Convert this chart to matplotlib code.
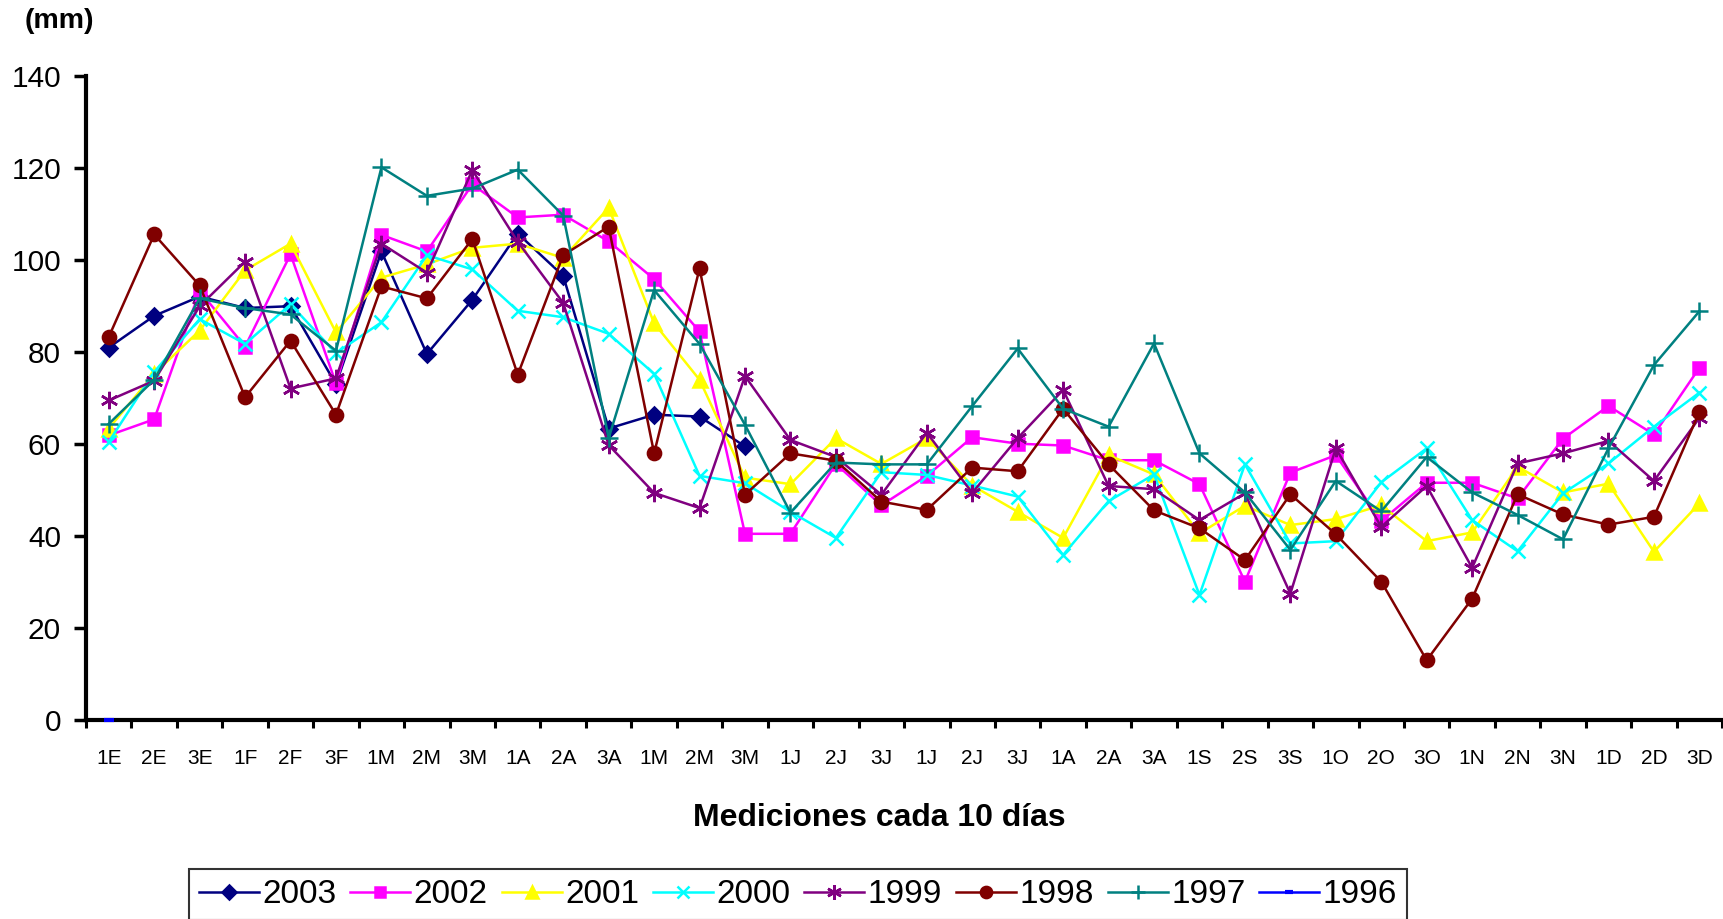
import matplotlib
matplotlib.use("Agg")
import matplotlib.pyplot as plt
from matplotlib.ticker import FixedLocator, NullFormatter

plt.rcParams['font.family'] = ['Liberation Sans', 'DejaVu Sans']

categories = ['1E', '2E', '3E', '1F', '2F', '3F', '1M', '2M', '3M', '1A', '2A', '3A',
              '1M', '2M', '3M', '1J', '2J', '3J', '1J', '2J', '3J', '1A', '2A', '3A',
              '1S', '2S', '3S', '1O', '2O', '3O', '1N', '2N', '3N', '1D', '2D', '3D']

y2003 = [81.0, 87.9, 92.1, 89.6, 90.0, 73.0, 101.9, 79.6, 91.4, 105.8, 96.6, 63.4,
         66.4, 66.0, 59.5]
y2002 = [61.9, 65.4, 93.3, 81.2, 101.3, 73.2, 105.5, 101.9, 116.5, 109.3, 109.9, 104.1,
         95.9, 84.5, 40.5, 40.5, 55.7, 46.7, 53.1, 61.5, 60.1, 59.7, 56.5, 56.5,
         51.3, 30.1, 53.8, 57.6, 43.3, 51.6, 51.6, 48.2, 61.2, 68.3, 62.1, 76.6]
y2001 = [63.4, 75.3, 84.7, 97.8, 103.6, 84.3, 96.2, 99.1, 102.7, 103.6, 100.5, 111.4,
         86.3, 74.0, 52.7, 51.3, 61.3, 55.7, 61.3, 51.0, 45.3, 39.6, 57.6, 53.4,
         40.6, 46.6, 42.4, 43.7, 46.7, 38.9, 40.8, 55.1, 49.5, 51.4, 36.6, 47.1]
y2000 = [60.5, 75.7, 87.2, 81.8, 90.4, 79.8, 86.5, 101.1, 98.0, 89.0, 87.6, 84.0,
         75.3, 53.1, 51.5, 45.3, 39.6, 53.9, 53.3, 51.0, 48.6, 35.9, 47.6, 53.4,
         27.2, 55.6, 38.4, 38.9, 51.7, 59.1, 43.5, 36.7, 49.3, 55.8, 63.8, 71.2]
y1999 = [69.5, 73.8, 90.0, 99.7, 72.1, 74.3, 103.6, 97.3, 119.6, 104.0, 90.7, 59.8,
         49.4, 46.1, 74.8, 60.9, 57.2, 49.0, 62.5, 49.4, 61.3, 71.8, 50.9, 50.2,
         43.5, 49.3, 27.5, 59.1, 42.0, 50.9, 33.1, 55.8, 58.0, 60.7, 52.0, 65.7]
y1998 = [83.3, 105.6, 94.5, 70.2, 82.5, 66.4, 94.3, 91.7, 104.6, 75.1, 101.1, 107.3,
         58.0, 98.2, 49.0, 58.0, 56.4, 47.5, 45.7, 54.9, 54.1, 67.7, 55.6, 45.6,
         41.7, 34.8, 49.1, 40.4, 30.1, 13.0, 26.4, 49.1, 44.7, 42.5, 44.2, 67.0]
y1997 = [64.4, 74.0, 91.7, 89.6, 88.2, 80.3, 120.2, 114.0, 115.6, 119.7, 109.7, 61.3,
         93.5, 81.8, 64.2, 45.1, 56.0, 55.6, 55.6, 68.3, 80.8, 67.7, 63.8, 81.9,
         58.0, 49.5, 37.0, 52.0, 45.4, 57.2, 49.5, 44.6, 39.3, 59.1, 77.2, 88.9]
y1996 = [0.0]

series = [
    ('2003', y2003, '#000080', 'D', 8.5),
    ('2002', y2002, '#FF00FF', 's', 8.5),
    ('2001', y2001, '#FFFF00', '^', 10.5),
    ('2000', y2000, '#00FFFF', 'x', 10.5),
    ('1999', y1999, '#800080', (6, 2, 0), 12.5),
    ('1998', y1998, '#800000', 'o', 9.5),
    ('1997', y1997, '#008080', '+', 12.5),
    ('1996', y1996, '#0000FF', '_', 7),
]

fig = plt.figure(figsize=(17.24, 9.19), dpi=100)
ax = fig.add_axes([0.0499, 0.2165, 0.949, 0.7005])

for k, (name, vals, col, mk, ms) in enumerate(series):
    xs = list(range(len(vals)))
    ax.plot(xs, vals, color=col, marker=mk, markersize=ms, linewidth=1.8,
            markeredgecolor=col, markerfacecolor=col,
            markeredgewidth=3 if name == '1996' else 1.8,
            label=name, clip_on=False, zorder=5 if name == '1996' else 2 + k * 0.01)

ax.set_xlim(-0.5, len(categories) - 0.5)
ax.set_ylim(0, 140)

ax.set_xticks(range(len(categories)))
ax.set_xticklabels(categories, fontsize=15)
ax.tick_params(axis='x', which='major', length=0, pad=21)
ax.xaxis.set_minor_locator(FixedLocator([i - 0.5 for i in range(len(categories) + 1)]))
ax.xaxis.set_minor_formatter(NullFormatter())
ax.tick_params(axis='x', which='minor', length=6, width=2.2, direction='out')

ax.set_yticks(range(0, 141, 20))
ax.tick_params(axis='y', labelsize=21.5, length=9, width=2.5, pad=9)

for s in ['top', 'right']:
    ax.spines[s].set_visible(False)
ax.spines['left'].set_linewidth(3)
ax.spines['bottom'].set_linewidth(3)

fig.text(0.014, 0.977, '(mm)', fontsize=20.5, fontweight='bold', ha='left', va='center')
fig.text(0.51, 0.110, 'Mediciones cada 10 días', fontsize=23, fontweight='bold',
         ha='center', va='center')

leg = fig.legend(loc='upper left', bbox_to_anchor=(0.1096, 0.054), ncol=8,
                 fontsize=24, frameon=True, fancybox=False, edgecolor='black',
                 handlelength=1.8, handletextpad=0.1, columnspacing=0.42,
                 borderpad=0.3, borderaxespad=0)
leg.get_frame().set_linewidth(1.5)
for h in leg.legend_handles:
    h.set_markersize(h.get_markersize() * 0.85)

fig.savefig('out.png', dpi=100)
